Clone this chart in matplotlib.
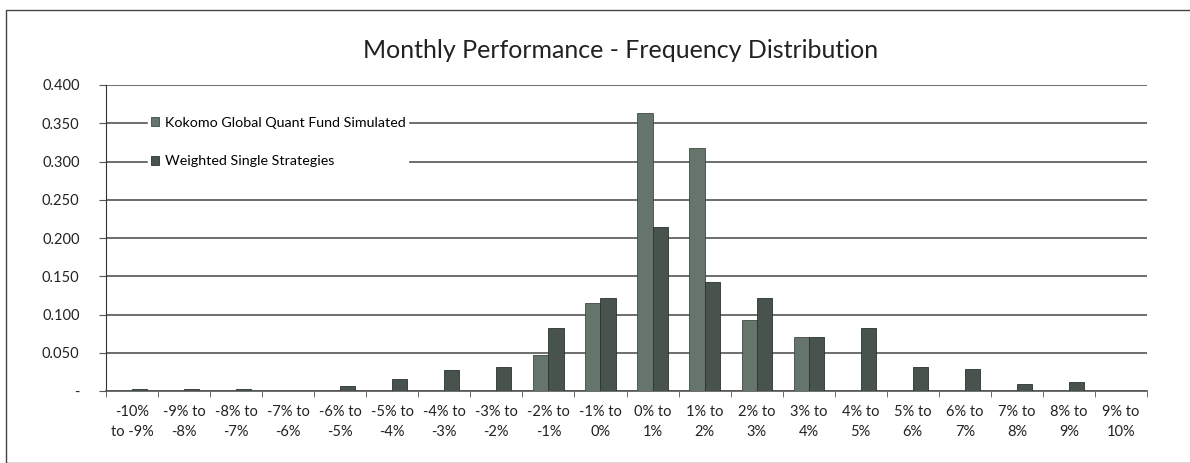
import numpy as np
import matplotlib
matplotlib.use("Agg")
import matplotlib.pyplot as plt
from matplotlib.patches import Rectangle

plt.rcParams['font.family'] = ['Lato', 'DejaVu Sans']

# data
categories = ["-10%\nto -9%", "-9% to\n-8%", "-8% to\n-7%", "-7% to\n-6%", "-6% to\n-5%",
              "-5% to\n-4%", "-4% to\n-3%", "-3% to\n-2%", "-2% to\n-1%", "-1% to\n0%",
              "0% to\n1%", "1% to\n2%", "2% to\n3%", "3% to\n4%", "4% to\n5%",
              "5% to\n6%", "6% to\n7%", "7% to\n8%", "8% to\n9%", "9% to\n10%"]
kokomo = [0, 0, 0, 0, 0, 0, 0, 0, 0.047, 0.115, 0.364, 0.318, 0.093, 0.070, 0, 0, 0, 0, 0, 0]
weighted = [0.003, 0.003, 0.003, 0, 0.007, 0.016, 0.028, 0.031, 0.083, 0.121,
            0.215, 0.143, 0.122, 0.070, 0.082, 0.032, 0.029, 0.009, 0.012, 0]
yticks = [0, 0.05, 0.10, 0.15, 0.20, 0.25, 0.30, 0.35, 0.40]
ytick_labels = ["-", "0.050", "0.100", "0.150", "0.200", "0.250", "0.300", "0.350", "0.400"]

KOKOMO_COLOR = "#66756c"
WEIGHTED_COLOR = "#48534d"
GRID_COLOR = "#555555"

fig = plt.figure(figsize=(11.9, 4.63), dpi=100)
ax = fig.add_axes([106/1190, 1 - 391/463, (1147-106)/1190, (391-85)/463])

# chart border
fig.patches.append(Rectangle((6/1190, 0), 1.2, 1 - 10/463, transform=fig.transFigure,
                             fill=False, edgecolor="#444444", linewidth=1.0))

x = np.arange(len(categories))
w = 0.29
ax.bar(x - w/2, kokomo, w, color=KOKOMO_COLOR, edgecolor="#3f4a44", linewidth=0.6,
       label="Kokomo Global Quant Fund Simulated", zorder=3)
ax.bar(x + w/2, weighted, w, color=WEIGHTED_COLOR, edgecolor="#2a322d", linewidth=0.6,
       label="Weighted Single Strategies", zorder=3)

ax.set_xlim(-0.5, len(categories) - 0.5)
ax.set_ylim(0, 0.4)
ax.set_yticks(yticks)
ax.set_yticklabels(ytick_labels)
ax.yaxis.grid(True, color=GRID_COLOR, linewidth=1.2, zorder=0)
ax.set_axisbelow(True)

ax.set_xticks(x)
ax.set_xticklabels(categories, fontsize=10.5, linespacing=1.6, color="#222222")
ax.set_xticks(np.arange(len(categories) + 1) - 0.5, minor=True)
ax.tick_params(axis="x", which="major", length=0, pad=10)
ax.tick_params(axis="x", which="minor", length=4, color=GRID_COLOR, direction="out")
ax.tick_params(axis="y", length=5, color=GRID_COLOR, labelsize=10.5, pad=14,
               labelcolor="#222222")

for s in ["top", "right"]:
    ax.spines[s].set_visible(False)
ax.spines["left"].set_color("#333333")
ax.spines["left"].set_linewidth(0.8)
ax.spines["bottom"].set_color(GRID_COLOR)
ax.spines["bottom"].set_linewidth(1.2)

leg = ax.legend(loc="upper left", bbox_to_anchor=(0.04, 0.905), frameon=True,
                facecolor="white", edgecolor="white", framealpha=1.0, fontsize=10.3,
                labelspacing=1.83, handlelength=0.6, handleheight=0.6, handletextpad=0.4,
                borderpad=0.2, borderaxespad=0)
leg.set_zorder(5)

fig.text(621/1190, 1 - 50/463, "Monthly Performance - Frequency Distribution",
         ha="center", va="center", fontsize=18, color="#222222")

fig.savefig("out.png", dpi=100)
